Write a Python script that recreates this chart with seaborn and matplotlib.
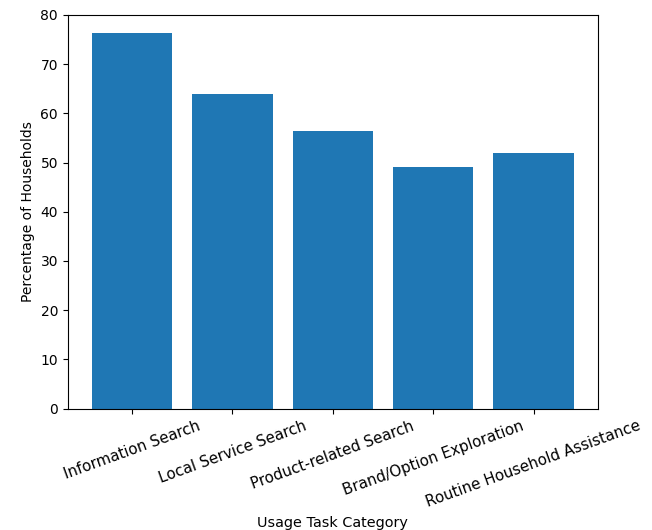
import matplotlib
matplotlib.use("Agg")
import matplotlib.pyplot as plt
import seaborn as sns
import pandas as pd

categories = [
    "Information Search",
    "Local Service Search",
    "Product-related Search",
    "Brand/Option Exploration",
    "Routine Household Assistance",
]
percentages = [76.3, 64.0, 56.4, 49.0, 52.0]

df = pd.DataFrame({"category": categories, "pct": percentages})

fig = plt.figure(figsize=(6.52, 5.30), dpi=100)
ax = fig.add_axes([0.104, 0.229, 0.813, 0.743])

sns.barplot(data=df, x="category", y="pct", color="#1f77b4", saturation=1,
            width=0.8, linewidth=0, ax=ax)

ax.set_xlim(-0.64, len(categories) - 1 + 0.64)
ax.set_ylim(0, 80)
ax.set_xlabel("Usage Task Category", fontsize=10.4)
ax.set_ylabel("Percentage of Households", fontsize=10)
ax.tick_params(axis="x", labelrotation=20, labelsize=10.8)
ax.tick_params(axis="y", labelsize=10)
for lbl in ax.get_xticklabels():
    lbl.set_ha("center")

fig.savefig("out.png", dpi=100)
